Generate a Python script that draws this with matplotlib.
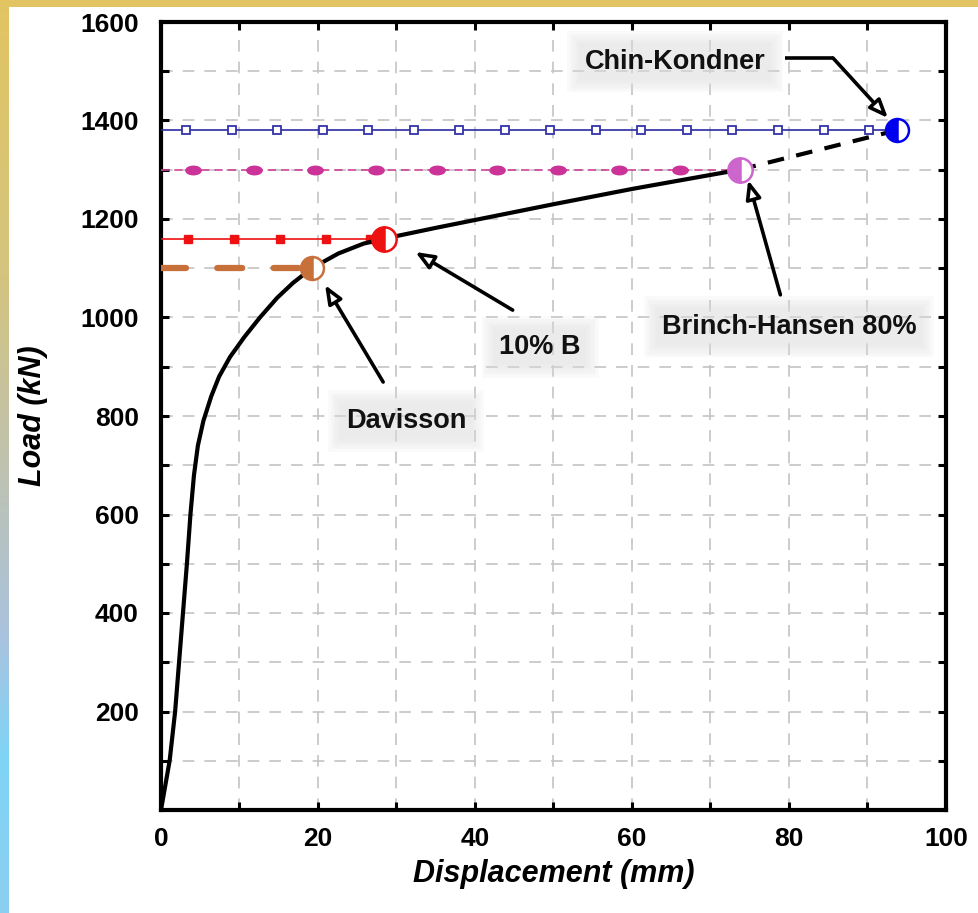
import numpy as np
import matplotlib
matplotlib.use("Agg")
import matplotlib.pyplot as plt
from matplotlib.path import Path
from matplotlib.transforms import Affine2D
from matplotlib.colors import LinearSegmentedColormap
from matplotlib.ticker import MultipleLocator, FuncFormatter

plt.rcParams['font.family'] = ['Liberation Sans', 'DejaVu Sans']

# Load-displacement curve (measured part)
disp = [0, 1.1, 1.8, 2.3, 2.8, 3.3, 3.75, 4.2, 4.7, 5.4, 6.4, 7.4, 8.8,
        10.6, 12.6, 14.8, 16.8, 19.2, 22.6, 25.8, 28.4, 35.0, 50.0, 60.0, 73.7]
load = [0, 100, 200, 300, 400, 500, 600, 680, 740, 790, 840, 880, 920,
        960, 1000, 1040, 1070, 1100, 1130, 1150, 1160, 1182, 1230, 1261, 1300]

# Extrapolated part of the curve
ext_disp = [73.7, 93.7]
ext_load = [1300, 1380]

# Interpreted ultimate loads (kN) and corresponding displacements (mm)
methods = ["Davisson", "10% B", "Brinch-Hansen 80%", "Chin-Kondner"]
ult_load = [1100, 1160, 1300, 1380]
ult_disp = [19.2, 28.4, 73.7, 93.7]

# Marker positions along the horizontal reference lines
tenb_marks = [3.5, 9.3, 15.2, 21.0, 26.6]
bh_marks = [4.1, 11.8, 19.6, 27.4, 35.1, 42.8, 50.6, 58.3, 66.1]
chin_marks = [3.2, 9.0, 14.8, 20.6, 26.4, 32.2, 38.0, 43.8, 49.6, 55.4,
              61.2, 67.0, 72.8, 78.6, 84.4, 90.2]

W, H, DPI = 979, 913, 100
fig = plt.figure(figsize=(W / DPI, H / DPI), dpi=DPI)
fig.patch.set_facecolor("white")

# Decorative frame: yellow top band and yellow-to-blue left band
band = fig.add_axes([0, 0, 9 / W, 1])
cmap = LinearSegmentedColormap.from_list(
    "frame",
    [(0.0, "#e2c462"), (0.3, "#d4c47e"), (0.5, "#c0c2ad"), (0.7, "#a9c3df"),
     (0.83, "#7fd4f6"), (1.0, "#8bcff0")])
band.imshow(np.linspace(0, 1, 256)[:, None], aspect="auto", cmap=cmap,
            extent=[0, 1, 0, 1], origin="upper")
band.set_axis_off()
top = fig.add_axes([0, 1 - 7 / H, 1, 7 / H])
top.set_facecolor("#e2c462")
top.set_xticks([]); top.set_yticks([])
for s in top.spines.values():
    s.set_visible(False)

ax = fig.add_axes([161 / W, (H - 810) / H, (946 - 161) / W, (810 - 22) / H])
ax.set_xlim(0, 100)
ax.set_ylim(0, 1600)

# Grid and ticks
ax.xaxis.set_major_locator(MultipleLocator(20))
ax.xaxis.set_minor_locator(MultipleLocator(10))
ax.yaxis.set_major_locator(MultipleLocator(200))
ax.yaxis.set_minor_locator(MultipleLocator(100))
ax.yaxis.set_major_formatter(FuncFormatter(lambda v, p: "" if v == 0 else f"{v:.0f}"))
ax.grid(True, which="both", color="#c4c4c4", lw=1.2, ls=(0, (7, 6)), zorder=0)
ax.tick_params(which="both", direction="in", length=6, width=2.2,
               top=True, right=True, labelsize=19)
ax.tick_params(axis="x", pad=12)
ax.tick_params(axis="y", pad=16)
for lab in ax.get_xticklabels() + ax.get_yticklabels():
    lab.set_fontweight("bold")
for s in ax.spines.values():
    s.set_linewidth(3)

# Horizontal reference lines
ax.plot([0, ult_disp[0]], [ult_load[0]] * 2, color="#c8703a", lw=4.5,
        ls=(0, (4, 5)), solid_capstyle="round", dash_capstyle="round", zorder=3)
ax.plot([0, ult_disp[1]], [ult_load[1]] * 2, color="#ee1111", lw=1.2, zorder=3)
ax.plot(tenb_marks, [ult_load[1]] * len(tenb_marks), ls="none", marker="s",
        ms=6, color="#ee1111", zorder=4)
ax.plot([0, ult_disp[2]], [ult_load[2]] * 2, color="#cc4499", lw=1.2,
        ls=(0, (5, 3)), zorder=3)
ellipse = Path.unit_circle().transformed(Affine2D().scale(1.8, 1.0))
ax.plot(bh_marks, [ult_load[2]] * len(bh_marks), ls="none", marker=ellipse,
        ms=11, color="#cc3399", zorder=4)
ax.plot([0, ult_disp[3]], [ult_load[3]] * 2, color="#2a2aa8", lw=1.2, zorder=3)
ax.plot(chin_marks, [ult_load[3]] * len(chin_marks), ls="none", marker="s",
        ms=6, mfc="white", mec="#3333aa", mew=1.3, zorder=4)

# Load-displacement curve
ax.plot(disp, load, color="black", lw=3, zorder=5, solid_joinstyle="round")
ax.plot(ext_disp, ext_load, color="black", lw=3, ls=(0, (4, 3)), zorder=5)

# Half-filled circles marking the interpreted capacities
circ_colors = ["#c8703a", "#ee1111", "#cc66cc", "#0000ee"]
circ_sizes = [16.5, 17.5, 17.5, 16.5]
for x, y, c, s in zip(ult_disp, ult_load, circ_colors, circ_sizes):
    ax.plot([x], [y], marker="o", ms=s, fillstyle="left", color=c, mec=c,
            markerfacecoloralt="white", mew=1.8, zorder=6)

ax.set_xlabel("Displacement (mm)", fontsize=22, fontweight="bold",
              fontstyle="italic", labelpad=6)
ax.set_ylabel("Load (kN)", fontsize=22, fontweight="bold",
              fontstyle="italic", labelpad=23)

# Annotation labels (on soft grey panels) and arrows
label_pos = [(31.2, 790), (48.3, 940), (80.0, 981), (65.5, 1519)]
arrow_tail = [(28.3, 869), (44.8, 1015), (78.9, 1046), (85.6, 1527)]
arrow_tip = [(20.9, 1066), (32.4, 1133), (74.8, 1279), (92.6, 1405)]
for name, lp, tail, tip in zip(methods, label_pos, arrow_tail, arrow_tip):
    for k in range(6):
        ax.text(lp[0], lp[1], name, fontsize=19.5, fontweight="bold",
                ha="center", va="center", color="none", zorder=7,
                bbox=dict(boxstyle=f"square,pad={0.2 + 0.09 * k:.2f}",
                          fc="#dedede", ec="none", alpha=0.12))
    ax.text(lp[0], lp[1], name, fontsize=19.5, fontweight="bold", ha="center",
            va="center", color="#111111", zorder=7.5)
    ax.annotate("", xy=tip, xytext=tail, zorder=8,
                arrowprops=dict(arrowstyle="-|>,head_length=1.1,head_width=0.45",
                                lw=2.6, fc="white", ec="black",
                                shrinkA=0, shrinkB=0))
# horizontal lead-in of the Chin-Kondner pointer
ax.plot([79.5, 85.6], [1527, 1527], color="black", lw=2.6, zorder=8,
        solid_capstyle="butt")

fig.savefig("out.png", dpi=DPI)
